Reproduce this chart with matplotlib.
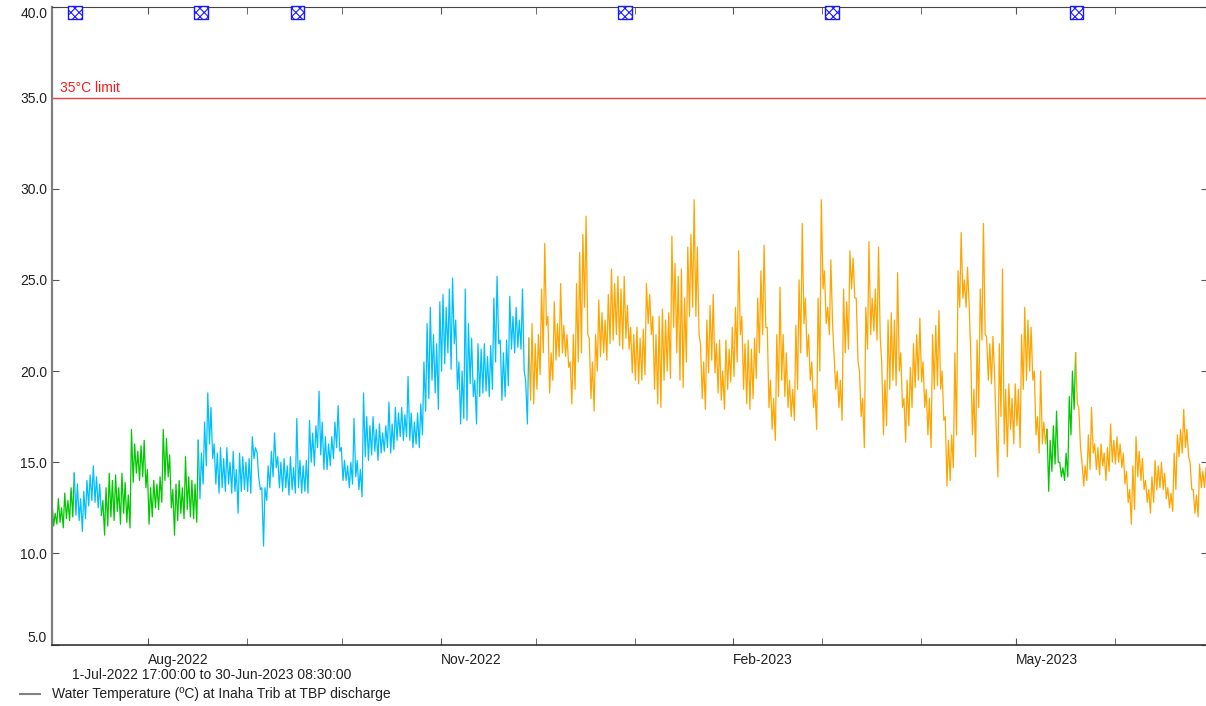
import numpy as np
import pandas as pd
import matplotlib
matplotlib.use("Agg")
import matplotlib.pyplot as plt
import matplotlib.dates as mdates
from matplotlib.lines import Line2D

plt.rcParams['font.family'] = ['Liberation Sans', 'DejaVu Sans']
plt.rcParams['hatch.linewidth'] = 0.8

# daily afternoon highs / early-morning lows (deg C)
jul_hi = [12.8, 12.2, 13.0, 12.5, 13.3, 12.9, 13.6, 14.4, 13.8, 13.0, 13.4, 14.0, 14.3, 14.8, 14.2, 13.8,
          12.9, 13.6, 14.4, 14.0, 14.3, 13.6, 14.4, 13.9, 13.2, 16.8, 16.0, 15.6, 15.9, 16.2, 14.6]
jul_lo = [11.5, 11.6, 11.7, 11.4, 11.9, 11.8, 12.0, 12.1, 11.8, 11.2, 11.9, 12.6, 12.9, 12.8, 12.5, 12.1,
          11.0, 11.5, 12.0, 11.8, 12.3, 11.6, 12.2, 11.7, 11.4, 13.9, 14.4, 14.0, 14.2, 13.6, 11.6]
aug_hi = [13.6, 14.0, 13.8, 14.2, 16.8, 16.3, 15.4, 13.5, 13.8, 14.0, 13.6, 15.3, 14.2, 14.0, 13.8, 16.2,
          15.5, 17.2, 18.8, 18.0, 16.0, 15.5, 15.8, 15.2, 15.8, 15.0, 15.6, 14.6, 15.5, 15.3, 15.0]
aug_lo = [12.0, 12.5, 12.4, 12.8, 14.0, 14.2, 12.5, 11.0, 11.8, 12.2, 11.9, 12.4, 12.0, 11.9, 11.7, 13.0,
          13.8, 14.8, 16.0, 15.2, 13.8, 13.3, 13.6, 13.4, 13.8, 13.3, 13.4, 12.2, 13.4, 13.5, 13.4]
sep_hi = [15.2, 16.4, 15.8, 14.2, 13.6, 13.6, 14.8, 15.6, 16.6, 15.3, 15.0, 15.2, 14.8, 15.3, 14.7, 17.4,
          15.1, 14.8, 15.1, 17.3, 16.6, 17.0, 18.9, 17.2, 16.4, 16.0, 16.4, 17.2, 18.1, 15.8]
sep_lo = [13.3, 15.2, 15.5, 13.5, 10.4, 12.9, 13.6, 14.2, 14.7, 13.6, 13.4, 13.6, 13.2, 13.5, 13.3, 13.6,
          13.3, 13.4, 13.3, 15.0, 14.8, 15.8, 15.4, 14.6, 14.6, 14.8, 15.2, 15.8, 15.6, 14.0]
oct_hi = [15.1, 14.8, 15.0, 17.4, 15.1, 14.6, 18.8, 17.5, 17.0, 17.5, 16.8, 17.1, 16.6, 17.0, 18.3, 17.1,
          18.0, 17.7, 18.0, 17.6, 19.7, 17.7, 17.2, 17.7, 18.2, 20.5, 22.6, 23.5, 22.0, 21.5, 23.8]
oct_lo = [14.0, 13.6, 13.8, 14.2, 13.5, 13.1, 15.3, 15.1, 15.4, 15.6, 15.1, 15.5, 15.6, 15.8, 15.5, 15.7,
          16.2, 16.4, 16.2, 16.4, 16.2, 15.8, 16.0, 15.8, 16.5, 17.8, 18.5, 19.5, 18.8, 17.9, 20.0]
nov_hi = [24.2, 23.5, 24.5, 25.1, 22.8, 20.5, 20.0, 24.5, 22.6, 21.8, 19.5, 21.5, 21.2, 21.5, 20.8, 21.4,
          24.0, 25.2, 21.7, 21.0, 21.7, 24.1, 23.0, 23.5, 22.8, 24.5, 19.5, 21.8, 22.6, 21.5]
nov_lo = [20.4, 21.0, 20.1, 21.5, 19.0, 17.1, 17.4, 17.3, 19.3, 18.6, 17.1, 18.6, 18.8, 18.9, 18.6, 19.0,
          20.5, 21.5, 18.4, 18.6, 19.2, 21.2, 21.0, 21.3, 21.2, 20.0, 17.1, 18.4, 18.2, 19.0]
dec_hi = [22.0, 24.5, 27.0, 23.0, 21.0, 23.8, 22.6, 24.8, 22.5, 22.0, 20.5, 22.0, 24.8, 26.5, 27.5, 28.5,
          21.8, 20.5, 22.0, 23.9, 23.2, 22.8, 24.2, 25.6, 24.8, 25.2, 24.5, 25.2, 23.6, 22.4, 22.0]
dec_lo = [19.8, 21.0, 22.5, 18.8, 19.5, 20.6, 20.8, 21.0, 20.8, 20.2, 18.2, 19.0, 20.5, 21.0, 23.5, 22.0,
          18.5, 17.8, 20.0, 20.8, 21.0, 20.6, 21.5, 21.7, 22.0, 21.4, 21.2, 21.8, 21.2, 19.9, 19.5]
jan_hi = [22.4, 21.8, 22.3, 24.8, 24.2, 23.0, 22.0, 23.0, 23.4, 22.8, 23.2, 27.4, 25.9, 25.2, 25.6, 24.0,
          26.8, 27.5, 29.4, 26.8, 21.5, 20.5, 22.8, 23.6, 24.2, 21.5, 21.7, 20.0, 21.7, 21.2, 22.4]
jan_lo = [19.3, 19.5, 19.8, 22.6, 22.0, 19.0, 18.2, 18.0, 19.5, 20.0, 19.6, 22.4, 21.0, 19.5, 19.1, 20.5,
          23.0, 23.5, 23.0, 22.0, 18.5, 17.9, 19.9, 20.6, 19.9, 18.8, 18.4, 17.9, 19.0, 19.4, 19.7]
feb_hi = [23.5, 26.6, 23.0, 21.5, 21.7, 21.2, 21.8, 24.0, 25.5, 26.9, 22.4, 19.5, 18.5, 22.0, 24.6, 22.0,
          21.0, 19.5, 19.0, 22.5, 25.0, 28.1, 24.0, 22.0, 20.5, 19.0, 24.0, 29.4]
feb_lo = [20.5, 22.0, 19.0, 18.2, 17.9, 18.5, 19.6, 21.0, 22.0, 22.4, 18.0, 16.8, 16.2, 18.6, 19.5, 18.6,
          18.0, 17.5, 17.3, 19.0, 21.0, 22.6, 20.8, 19.5, 18.0, 16.8, 20.0, 24.5]
mar_hi = [25.5, 23.5, 26.1, 21.0, 20.0, 19.5, 24.5, 23.8, 26.6, 26.2, 24.0, 20.0, 18.5, 23.5, 27.1, 24.0,
          24.5, 26.8, 20.5, 19.5, 22.8, 23.2, 22.8, 25.4, 21.0, 18.5, 19.5, 20.2, 21.5, 22.0, 22.9]
mar_lo = [22.6, 22.0, 22.6, 19.0, 18.0, 17.3, 21.0, 21.2, 24.5, 24.0, 20.5, 17.5, 15.8, 21.2, 22.0, 22.2,
          21.7, 21.8, 16.5, 17.0, 19.0, 19.5, 19.2, 20.0, 18.0, 16.1, 17.0, 18.0, 19.1, 19.5, 19.4]
apr_hi = [20.5, 19.0, 18.5, 22.0, 22.5, 23.3, 20.0, 17.5, 16.2, 16.5, 21.0, 25.5, 27.6, 25.0, 25.7, 21.0,
          19.0, 21.7, 24.5, 28.1, 21.9, 21.5, 21.9, 17.0, 21.5, 25.6, 19.0, 19.3, 18.5, 19.3]
apr_lo = [18.0, 16.5, 15.8, 19.0, 19.2, 19.0, 17.3, 13.7, 14.0, 14.7, 16.5, 23.5, 24.0, 23.5, 23.5, 16.5,
          15.3, 18.0, 21.7, 22.0, 19.5, 19.3, 19.6, 14.2, 17.5, 16.0, 15.3, 16.8, 16.0, 17.0]
may_hi = [19.0, 22.0, 23.5, 22.8, 22.4, 20.0, 17.5, 20.0, 17.2, 16.8, 16.2, 17.0, 17.8, 15.0, 14.7, 15.5,
          18.6, 20.0, 21.0, 18.0, 15.0, 14.8, 16.5, 18.0, 16.0, 15.8, 16.0, 15.5, 15.8, 17.1, 16.2]
may_lo = [15.8, 19.0, 19.5, 20.0, 19.5, 16.5, 15.5, 16.0, 16.0, 13.4, 14.5, 14.9, 15.0, 14.2, 14.0, 14.2,
          16.5, 17.9, 18.2, 15.8, 13.7, 14.0, 14.6, 15.5, 14.6, 14.3, 14.8, 14.0, 14.5, 15.0, 14.9]
jun_hi = [16.4, 16.0, 15.5, 14.5, 13.5, 14.8, 16.4, 15.6, 15.2, 14.0, 13.5, 14.2, 15.1, 14.8, 15.0, 14.4,
          13.6, 13.3, 15.5, 16.5, 16.8, 17.9, 16.8, 15.0, 13.5, 13.2, 14.9, 14.5, 14.7]
jun_lo = [15.0, 14.7, 13.8, 12.8, 11.6, 12.4, 14.2, 14.0, 13.5, 12.8, 12.2, 12.8, 13.5, 13.6, 13.5, 13.0,
          12.5, 12.3, 13.5, 15.3, 15.5, 15.8, 15.3, 13.5, 12.2, 12.0, 13.6, 13.6, 13.8]

# periods drawn in different colours (data grade)
period_start = ["2022-07-01 17:00", "2022-07-09 00:00", "2022-07-17 10:00", "2022-08-17 05:00",
                "2022-11-29 00:00", "2023-05-11 03:00", "2023-05-20 00:00"]
period_color = ["#00c800", "#00bfff", "#00c800", "#00bfff", "#ffa500", "#00c800", "#ffa500"]

# flag markers along the top edge
flag_dates = ["2022-07-09 00:00", "2022-08-17 12:00", "2022-09-17 00:00",
              "2022-12-29 00:00", "2023-03-04 00:00", "2023-05-20 00:00"]

limit_value = 35.0
start_time = pd.Timestamp("2022-07-01 17:00")
end_time = pd.Timestamp("2023-06-30 08:30")

daily_hi = np.array(jul_hi + aug_hi + sep_hi + oct_hi + nov_hi + dec_hi +
                    jan_hi + feb_hi + mar_hi + apr_hi + may_hi + jun_hi)
daily_lo = np.array(jul_lo + aug_lo + sep_lo + oct_lo + nov_lo + dec_lo +
                    jan_lo + feb_lo + mar_lo + apr_lo + may_lo + jun_lo)
days = pd.to_timedelta(np.arange(len(daily_hi)), unit="D")
t_hi = (start_time + days).values
t_lo = (start_time + days + pd.Timedelta(hours=13)).values
times = np.column_stack([t_hi, t_lo]).ravel()
temps = np.column_stack([daily_hi, daily_lo]).ravel()

fig = plt.figure(figsize=(12.06, 7.06), dpi=100)
ax = fig.add_axes([52 / 1206, (706 - 644.5) / 706, (1208 - 52) / 1206, 638 / 706])

starts = pd.to_datetime(period_start).values
for i, c in enumerate(period_color):
    i0 = max(np.searchsorted(times, starts[i]) - 1, 0)
    i1 = np.searchsorted(times, starts[i + 1]) if i + 1 < len(starts) else len(times)
    ax.plot(times[i0:i1], temps[i0:i1], color=c, lw=0.9)

ax.axhline(limit_value, color="#ff3b3b", lw=1)
ax.text(start_time + pd.Timedelta(days=2.5), limit_value + 0.15, "35°C limit",
        color="#ff1a1a", fontsize=10, va="bottom")

ax.scatter(pd.to_datetime(flag_dates), [39.66] * len(flag_dates), marker="s", s=95,
           facecolors="white", edgecolors="#1a1aff", hatch="xxxx", linewidths=1,
           zorder=5, clip_on=False)

ax.set_xlim(start_time, end_time)
ax.set_ylim(5, 40)
ax.set_yticks(np.arange(5, 41, 5))
ax.yaxis.set_major_formatter(plt.FormatStrFormatter("%.1f"))
ax.xaxis.set_major_locator(mdates.MonthLocator(bymonth=[2, 5, 8, 11]))
ax.xaxis.set_minor_locator(mdates.MonthLocator())
ax.xaxis.set_major_formatter(mdates.DateFormatter("%b-%Y"))
ax.tick_params(axis="both", which="both", direction="in", length=5, top=True, right=True,
               labelsize=10, color="#555555", labelcolor="#222222")
ax.tick_params(axis="x", pad=6)
plt.setp(ax.get_xticklabels(), ha="left")
ylabels = ax.get_yticklabels()
ylabels[0].set_va("bottom")
ylabels[-1].set_va("top")

ax.spines["left"].set_color("#808080")
ax.spines["left"].set_linewidth(1.6)
ax.spines["bottom"].set_color("#333333")
ax.spines["bottom"].set_linewidth(1.2)
ax.spines["top"].set_color("#444444")
ax.spines["right"].set_color("#444444")

fig.text(212 / 1206, 1 - 675 / 706, "1-Jul-2022 17:00:00 to 30-Jun-2023 08:30:00",
         ha="center", va="center", fontsize=10, color="#222222")
fig.add_artist(Line2D([20 / 1206, 40 / 1206], [1 - 694 / 706] * 2, color="#808080", lw=1.5))
fig.text(52 / 1206, 1 - 694 / 706, "Water Temperature (ºC) at Inaha Trib at TBP discharge",
         ha="left", va="center", fontsize=10, color="#222222")

fig.savefig("out.png", dpi=100)
